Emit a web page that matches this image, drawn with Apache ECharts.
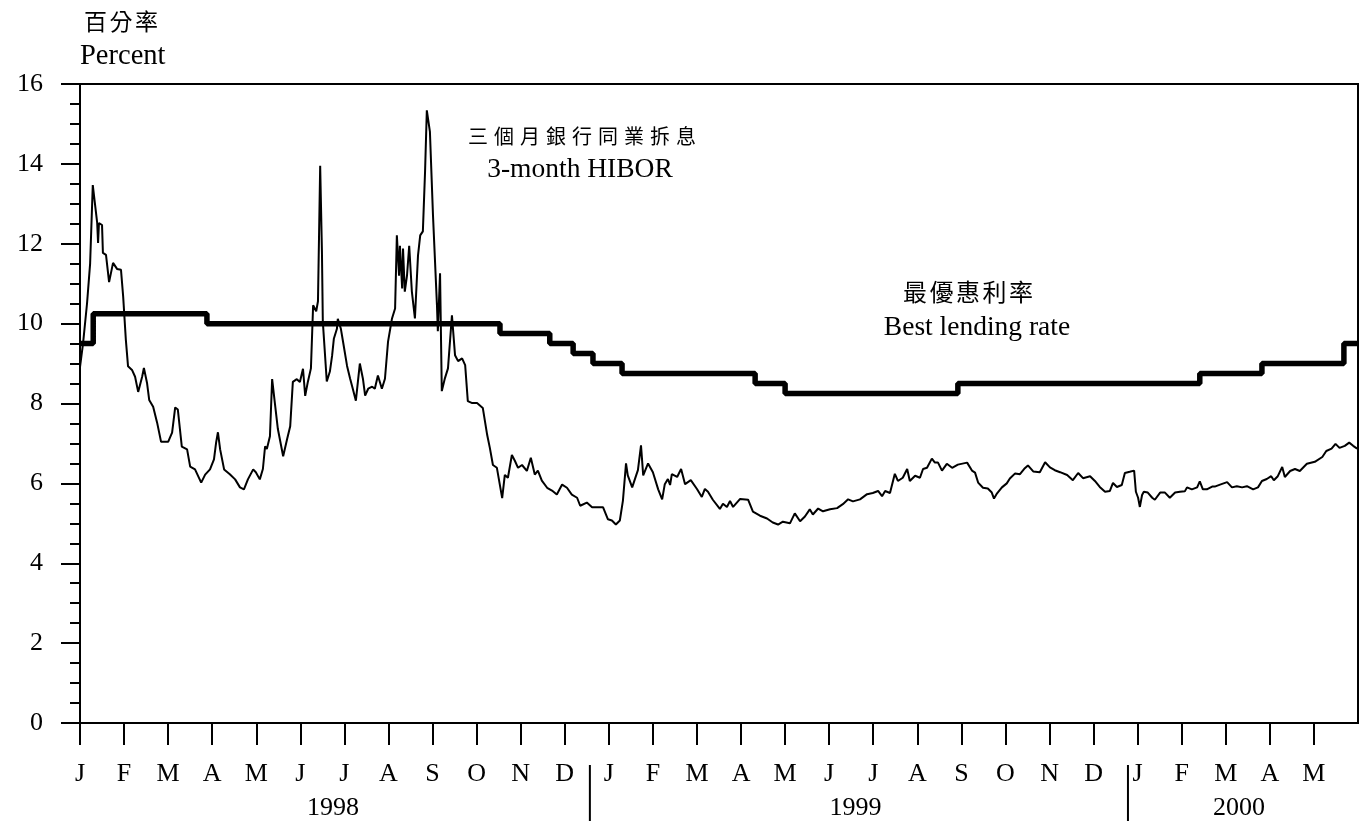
<!DOCTYPE html>
<html><head><meta charset="utf-8">
<script src="https://cdn.jsdelivr.net/npm/echarts@6/dist/echarts.min.js"></script>
<style>html,body{margin:0;padding:0;background:#fff}#c{width:1360px;height:826px}</style>
</head><body><div id="c"></div>
<script>
// x values are months elapsed since 1 Jan 1998
const monthLabels = ['J','F','M','A','M','J','J','A','S','O','N','D',
                     'J','F','M','A','M','J','J','A','S','O','N','D',
                     'J','F','M','A','M'];
const yearLabels = ['1998', '1999', '2000'];
const yearLabelPos = [5.74, 17.6, 26.3];
const yearSeparators = [11.57, 23.78];

// Best lending rate (value taking effect at each time)
const blrT = [0, 0.30, 2.88, 9.53, 10.66, 11.19, 11.64, 12.30, 15.32, 16.00, 19.92, 25.41, 26.82, 28.68, 29];
const blrV = [9.5, 10.25, 10.0, 9.75, 9.5, 9.25, 9.0, 8.75, 8.5, 8.25, 8.5, 8.75, 9.0, 9.5, 9.5];

// 3-month HIBOR
const hiborT = [
 0.00,0.07,0.16,0.23,0.29,0.39,0.41,0.43,0.50,0.52,0.59,0.66,0.70,0.75,0.84,0.93,0.98,1.04,1.09,1.18,
 1.25,1.32,1.41,1.45,1.52,1.57,1.66,1.75,1.84,2.00,2.09,2.16,2.22,2.31,2.43,2.50,2.61,2.75,2.84,2.95,
 3.04,3.09,3.13,3.18,3.27,3.40,3.52,3.63,3.72,3.81,3.93,3.99,4.08,4.15,4.20,4.24,4.31,4.36,4.42,4.49,
 4.61,4.70,4.77,4.83,4.92,4.99,5.06,5.11,5.17,5.24,5.29,5.36,5.40,5.45,5.49,5.51,5.60,5.67,
 5.72,5.76,5.83,5.85,5.92,5.97,6.06,6.13,6.19,6.26,6.35,6.42,6.47,6.54,6.63,6.69,6.76,6.85,6.92,6.99,
 7.08,7.15,7.19,7.24,7.26,7.31,7.33,7.37,7.42,7.47,7.53,7.60,7.67,7.72,7.78,7.83,7.87,7.94,8.01,8.10,
 8.12,8.17,8.21,8.28,8.35,8.44,8.51,8.58,8.67,8.74,8.80,8.90,9.01,9.14,9.24,9.30,9.37,9.46,9.58,9.64,
 9.71,9.80,9.87,9.94,10.03,10.14,10.23,10.32,10.39,10.48,10.60,10.71,10.82,10.94,11.05,11.16,11.28,
 11.35,11.50,11.62,11.87,11.98,12.07,12.16,12.25,12.32,12.39,12.43,12.53,12.62,12.66,12.73,12.78,12.89,13.00,13.12,13.21,
 13.27,13.34,13.39,13.43,13.55,13.64,13.73,13.86,14.00,14.11,14.18,14.25,14.36,14.52,14.59,14.68,14.75,14.82,14.98,15.16,
 15.27,15.43,15.59,15.72,15.84,15.95,16.11,16.22,16.34,16.45,16.56,16.63,16.75,16.86,17.02,17.18,17.31,17.43,17.54,17.70,
 17.86,17.99,18.11,18.20,18.27,18.38,18.49,18.56,18.67,18.77,18.83,18.95,19.06,19.13,19.22,19.33,19.40,19.47,19.56,19.67,
 19.79,19.92,
 20.13,20.24,20.31,20.38,20.49,20.60,20.69,20.74,20.81,20.92,21.03,21.10,21.22,21.33,21.44,21.51,21.63,21.78,21.90,22.01,
 22.12,22.24,22.40,22.53,22.65,22.76,22.92,23.03,23.14,23.26,23.37,23.44,23.53,23.64,23.71,23.82,23.92,23.96,24.01,24.05,
 24.10,24.14,24.23,24.33,24.39,24.51,24.62,24.73,24.85,24.96,25.07,25.12,25.23,25.35,25.41,25.48,25.57,25.69,25.75,25.87,
 26.03,26.14,26.25,26.37,26.48,26.62,26.73,26.82,26.93,27.03,27.09,27.18,27.28,27.34,27.46,27.57,27.68,27.84,28.02,28.19,
 28.28,28.40,28.49,28.58,28.70,28.80,28.89,28.98
];
const hiborV = [
 8.91,9.51,10.51,11.51,13.47,12.52,12.02,12.52,12.47,11.77,11.72,11.04,11.02,11.52,11.37,11.35,10.67,9.60,8.93,8.84,
 8.67,8.29,8.67,8.89,8.52,8.09,7.92,7.52,7.04,7.04,7.27,7.90,7.85,6.92,6.85,6.42,6.35,6.02,6.22,6.35,
 6.60,7.03,7.28,6.85,6.35,6.23,6.10,5.90,5.85,6.10,6.35,6.28,6.10,6.36,6.93,6.86,7.18,8.61,8.03,7.36,
 6.68,7.11,7.43,8.54,8.61,8.54,8.87,8.19,8.54,8.88,10.46,10.31,10.56,13.95,11.80,10.05,8.55,8.80,
 9.19,9.62,9.87,10.12,9.87,9.54,8.94,8.62,8.37,8.07,9.00,8.62,8.20,8.37,8.42,8.37,8.70,8.37,8.62,9.55,
 10.13,10.38,12.21,11.20,11.95,10.88,11.88,10.80,11.20,11.95,10.81,10.13,11.71,12.21,12.31,13.81,15.34,14.81,12.71,10.46,
 9.81,11.26,8.31,8.63,8.88,10.21,9.21,9.06,9.13,8.96,8.06,8.01,8.01,7.89,7.21,6.89,6.46,6.39,5.63,6.21,
 6.14,6.71,6.56,6.39,6.46,6.31,6.64,6.22,6.32,6.07,5.89,5.82,5.72,5.97,5.89,5.72,5.64,
 5.44,5.52,5.40,5.40,5.10,5.07,4.97,5.07,5.57,6.50,6.20,5.90,6.20,6.33,6.95,6.20,6.50,6.28,5.85,5.60,
 5.98,6.11,5.96,6.23,6.16,6.36,5.98,6.08,5.86,5.66,5.86,5.79,5.59,5.36,5.49,5.41,5.56,5.41,5.61,5.59,
 5.29,5.19,5.12,5.02,4.97,5.04,5.00,5.25,5.05,5.17,5.35,5.22,5.37,5.30,5.35,5.38,5.48,5.60,5.55,5.60,
 5.73,5.76,5.81,5.68,5.81,5.76,6.24,6.06,6.14,6.36,6.06,6.19,6.14,6.36,6.39,6.62,6.52,6.52,6.32,6.49,
 6.39,6.47,
 6.52,6.32,6.27,6.02,5.89,5.87,5.77,5.62,5.75,5.90,6.00,6.12,6.25,6.23,6.38,6.45,6.30,6.28,6.53,6.40,
 6.33,6.28,6.21,6.08,6.26,6.13,6.18,6.06,5.91,5.79,5.81,6.01,5.91,5.96,6.26,6.29,6.32,5.79,5.64,5.41,
 5.71,5.79,5.77,5.64,5.59,5.77,5.77,5.64,5.77,5.79,5.80,5.90,5.85,5.90,6.05,5.85,5.85,5.92,5.92,5.97,
 6.03,5.90,5.93,5.90,5.93,5.85,5.90,6.06,6.11,6.18,6.08,6.18,6.41,6.16,6.31,6.36,6.31,6.49,6.54,6.66,
 6.81,6.87,6.99,6.89,6.94,7.02,6.94,6.87
];

const serif = '"Liberation Serif", "Times New Roman", serif';
const cjk = '"Noto Sans CJK TC", "Noto Sans CJK SC", sans-serif';
const tickVals = monthLabels.map((_, i) => i);

const chart = echarts.init(document.getElementById('c'), null, {renderer: 'canvas'});
const option = {
  animation: false,
  backgroundColor: '#fff',
  grid: {left: 80, right: 2, top: 84, bottom: 103, show: true, borderColor: '#000', borderWidth: 2, backgroundColor: 'transparent'},
  xAxis: {
    type: 'value', min: 0, max: 29, interval: 1,
    axisLine: {show: true, lineStyle: {color: '#000', width: 2}},
    axisTick: {show: true, length: 22, lineStyle: {color: '#000', width: 2}, customValues: tickVals},
    axisLabel: {show: true, customValues: tickVals, formatter: v => monthLabels[Math.round(v)] || '',
      color: '#000', fontFamily: serif, fontSize: 26, margin: 38},
    splitLine: {show: false}
  },
  yAxis: {
    type: 'value', min: 0, max: 16, interval: 2,
    axisLine: {show: true, lineStyle: {color: '#000', width: 2}},
    axisTick: {show: true, length: 19, lineStyle: {color: '#000', width: 2}},
    minorTick: {show: true, splitNumber: 4, length: 10, lineStyle: {color: '#000', width: 2}},
    axisLabel: {color: '#000', fontFamily: serif, fontSize: 26, margin: 37},
    splitLine: {show: false}
  },
  series: [
    {
      name: '3-month HIBOR', type: 'line', symbol: 'none', showSymbol: false,
      data: hiborT.map((t, i) => [t, hiborV[i]]),
      lineStyle: {color: '#000', width: 2}, z: 3
    },
    {
      name: 'Best lending rate', type: 'line', symbol: 'none', showSymbol: false, step: 'end',
      data: blrT.map((t, i) => [t, blrV[i]]),
      lineStyle: {color: '#000', width: 5.5}, z: 4
    }
  ]
};
chart.setOption(option);

function spacedText(str, x0, pitch, y, size) {
  return str.split('').map((ch, i) => ({
    type: 'text', x: x0 + i * pitch, y: y,
    style: {text: ch, fontFamily: cjk, fontSize: size, fill: '#000', align: 'left', verticalAlign: 'middle'}
  }));
}

const px = m => chart.convertToPixel({xAxisIndex: 0}, m);
const graphics = [];
graphics.push(...spacedText('百分率', 84, 25.5, 21, 23));
graphics.push({type: 'text', x: 80, y: 57, style: {text: 'Percent', fontFamily: serif, fontSize: 28.5, fill: '#000', align: 'left', verticalAlign: 'middle'}});
graphics.push(...spacedText('三個月銀行同業拆息', 468, 26, 136, 20));
graphics.push({type: 'text', x: 580, y: 170, style: {text: '3-month HIBOR', fontFamily: serif, fontSize: 27.5, fill: '#000', align: 'center', verticalAlign: 'middle'}});
graphics.push(...spacedText('最優惠利率', 903, 26.5, 292, 24));
graphics.push({type: 'text', x: 977, y: 328, style: {text: 'Best lending rate', fontFamily: serif, fontSize: 27.5, fill: '#000', align: 'center', verticalAlign: 'middle'}});
yearLabels.forEach((t, i) => graphics.push({
  type: 'text', x: px(yearLabelPos[i]), y: 808,
  style: {text: t, fontFamily: serif, fontSize: 26, fill: '#000', align: 'center', verticalAlign: 'middle'}
}));
yearSeparators.forEach(m => graphics.push({
  type: 'line', shape: {x1: px(m), y1: 765, x2: px(m), y2: 821}, style: {stroke: '#000', lineWidth: 2}
}));
chart.setOption({graphic: graphics});
</script>
</body></html>
